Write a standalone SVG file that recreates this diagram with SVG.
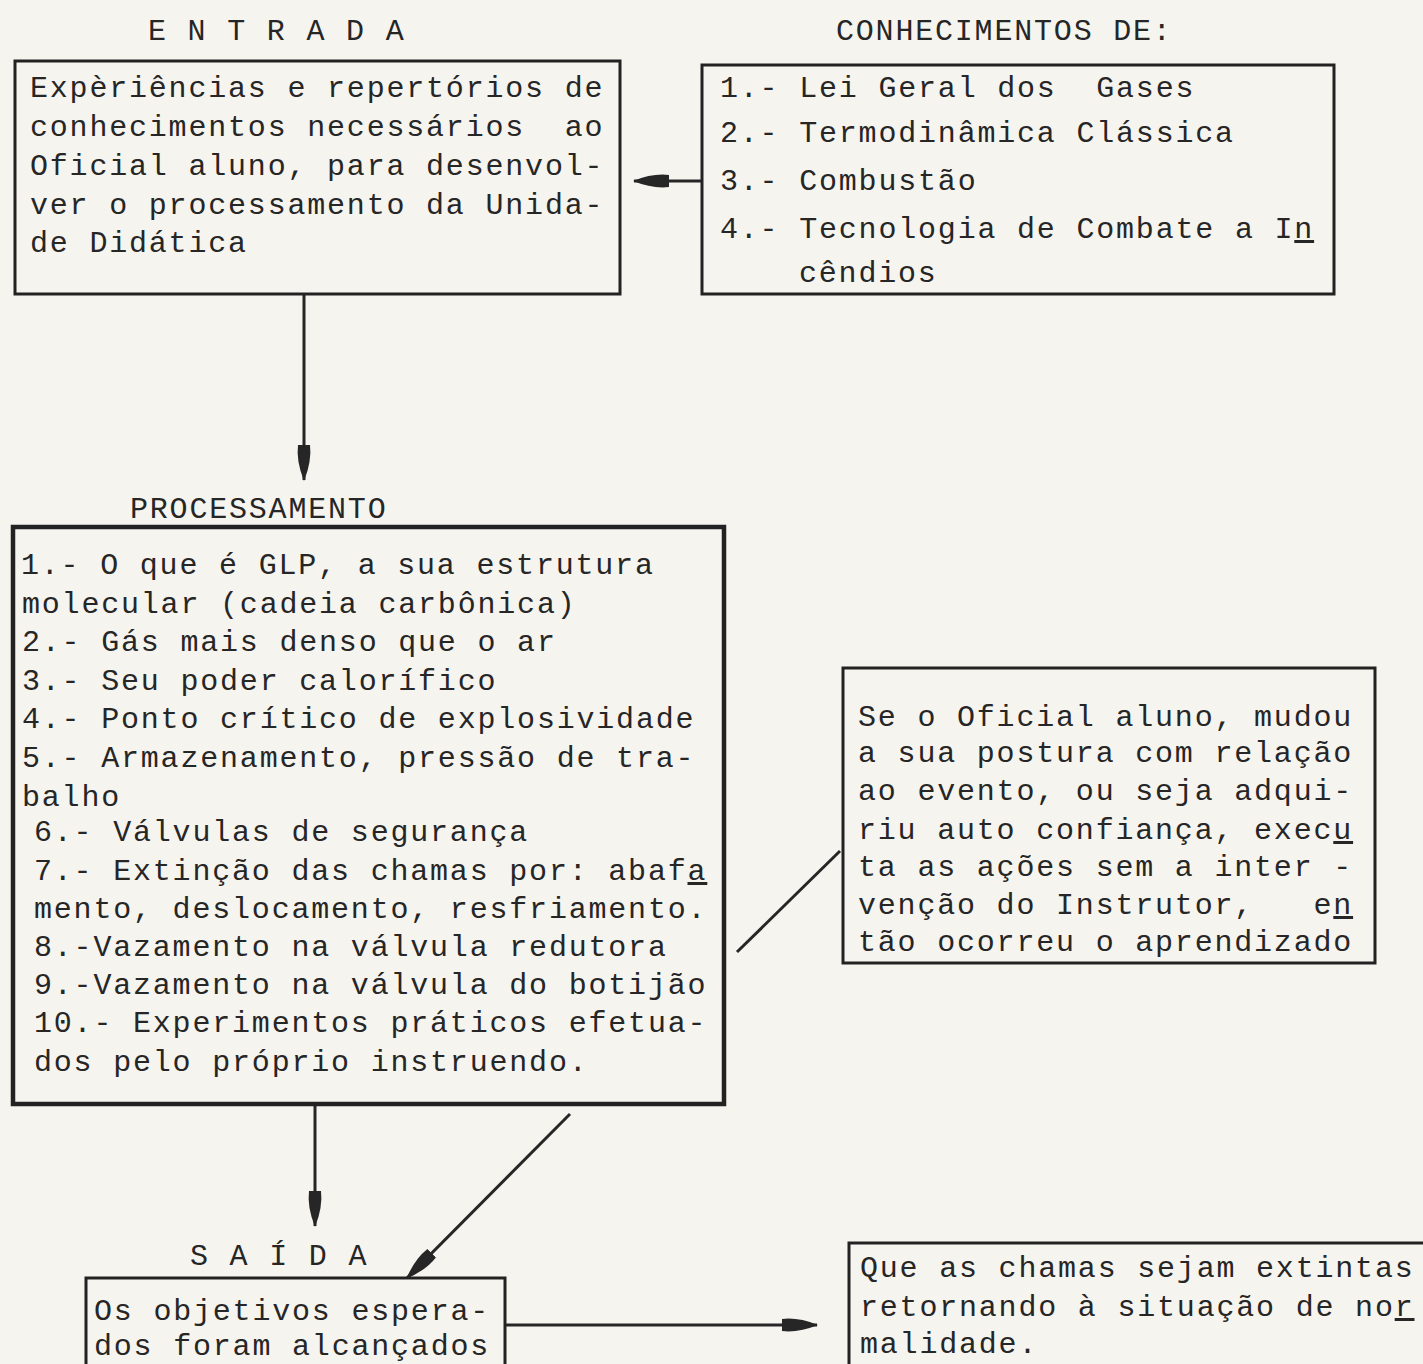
<svg xmlns="http://www.w3.org/2000/svg" width="1423" height="1364" viewBox="0 0 1423 1364">
<defs>
<style>
.t{font-family:"Liberation Mono","DejaVu Sans Mono",monospace;font-size:30px;letter-spacing:1.8px;fill:#262626;white-space:pre}
.box{fill:none;stroke:#222;stroke-width:3}
.thick{fill:none;stroke:#222;stroke-width:4.5}
.c{fill:none;stroke:#262626;stroke-width:3}
.u{text-decoration:underline}
</style>
<marker id="ah" viewBox="0 0 36 16" refX="35" refY="8" markerWidth="36" markerHeight="16" markerUnits="userSpaceOnUse" orient="auto">
<path d="M0,2 Q16,0 36,8 Q16,16 0,14 Z" fill="#262626"/>
</marker>
</defs>
<rect width="1423" height="1364" fill="#f6f4ef"/>

<g id="connectors">
<line class="c" x1="702" y1="181" x2="634" y2="181" marker-end="url(#ah)"/>
<line class="c" x1="304" y1="295" x2="304" y2="480" marker-end="url(#ah)"/>
<line class="c" x1="315" y1="1106" x2="315" y2="1226" marker-end="url(#ah)"/>
<line class="c" x1="570" y1="1114" x2="407" y2="1278" marker-end="url(#ah)"/>
<line class="c" x1="505" y1="1325" x2="817" y2="1325" marker-end="url(#ah)"/>
<line class="c" x1="737" y1="952" x2="840" y2="851"/>
</g>

<g id="entrada">
<text class="t" x="148" y="40">E N T R A D A</text>
<rect class="box" x="15" y="61" width="605" height="233"/>
<text class="t" x="30" y="97">Expèriências e repertórios de</text>
<text class="t" x="30" y="136">conhecimentos necessários  ao</text>
<text class="t" x="30" y="175">Oficial aluno, para desenvol-</text>
<text class="t" x="30" y="214">ver o processamento da Unida-</text>
<text class="t" x="30" y="252">de Didática</text>
</g>

<g id="conhecimentos">
<text class="t" x="836" y="40">CONHECIMENTOS DE:</text>
<rect class="box" x="702" y="65" width="632" height="229"/>
<text class="t" x="720" y="97">1.- Lei Geral dos  Gases</text>
<text class="t" x="720" y="142">2.- Termodinâmica Clássica</text>
<text class="t" x="720" y="190">3.- Combustão</text>
<text class="t" x="720" y="238">4.- Tecnologia de Combate a I<tspan class="u">n</tspan></text>
<text class="t" x="799" y="282">cêndios</text>
</g>

<g id="processamento">
<text class="t" x="130" y="518">PROCESSAMENTO</text>
<rect class="thick" x="13" y="527" width="711" height="577"/>
<text class="t" x="21" y="574">1.- O que é GLP, a sua estrutura</text>
<text class="t" x="22" y="613">molecular (cadeia carbônica)</text>
<text class="t" x="22" y="651">2.- Gás mais denso que o ar</text>
<text class="t" x="22" y="690">3.- Seu poder calorífico</text>
<text class="t" x="22" y="728">4.- Ponto crítico de explosividade</text>
<text class="t" x="22" y="767">5.- Armazenamento, pressão de tra-</text>
<text class="t" x="22" y="806">balho</text>
<text class="t" x="34" y="841">6.- Válvulas de segurança</text>
<text class="t" x="34" y="880">7.- Extinção das chamas por: abaf<tspan class="u">a</tspan></text>
<text class="t" x="34" y="918">mento, deslocamento, resfriamento.</text>
<text class="t" x="34" y="956">8.-Vazamento na válvula redutora</text>
<text class="t" x="34" y="994">9.-Vazamento na válvula do botijão</text>
<text class="t" x="34" y="1032">10.- Experimentos práticos efetua-</text>
<text class="t" x="34" y="1071">dos pelo próprio instruendo.</text>
</g>

<g id="aprendizado">
<rect class="box" x="843" y="668" width="532" height="295"/>
<text class="t" x="858" y="726">Se o Oficial aluno, mudou</text>
<text class="t" x="858" y="762">a sua postura com relação</text>
<text class="t" x="858" y="800">ao evento, ou seja adqui-</text>
<text class="t" x="858" y="839">riu auto confiança, exec<tspan class="u">u</tspan></text>
<text class="t" x="858" y="876">ta as ações sem a inter -</text>
<text class="t" x="858" y="914">venção do Instrutor,   e<tspan class="u">n</tspan></text>
<text class="t" x="858" y="951">tão ocorreu o aprendizado</text>
</g>

<g id="saida">
<text class="t" x="190" y="1265">S A Í D A</text>
<rect class="box" x="86" y="1278" width="419" height="110"/>
<text class="t" x="94" y="1320">Os objetivos espera-</text>
<text class="t" x="94" y="1355">dos foram alcançados</text>
</g>

<g id="resultado">
<rect class="box" x="849" y="1243" width="600" height="140"/>
<text class="t" x="860" y="1277">Que as chamas sejam extintas</text>
<text class="t" x="860" y="1316">retornando à situação de no<tspan class="u">r</tspan></text>
<text class="t" x="860" y="1353">malidade.</text>
</g>
</svg>
